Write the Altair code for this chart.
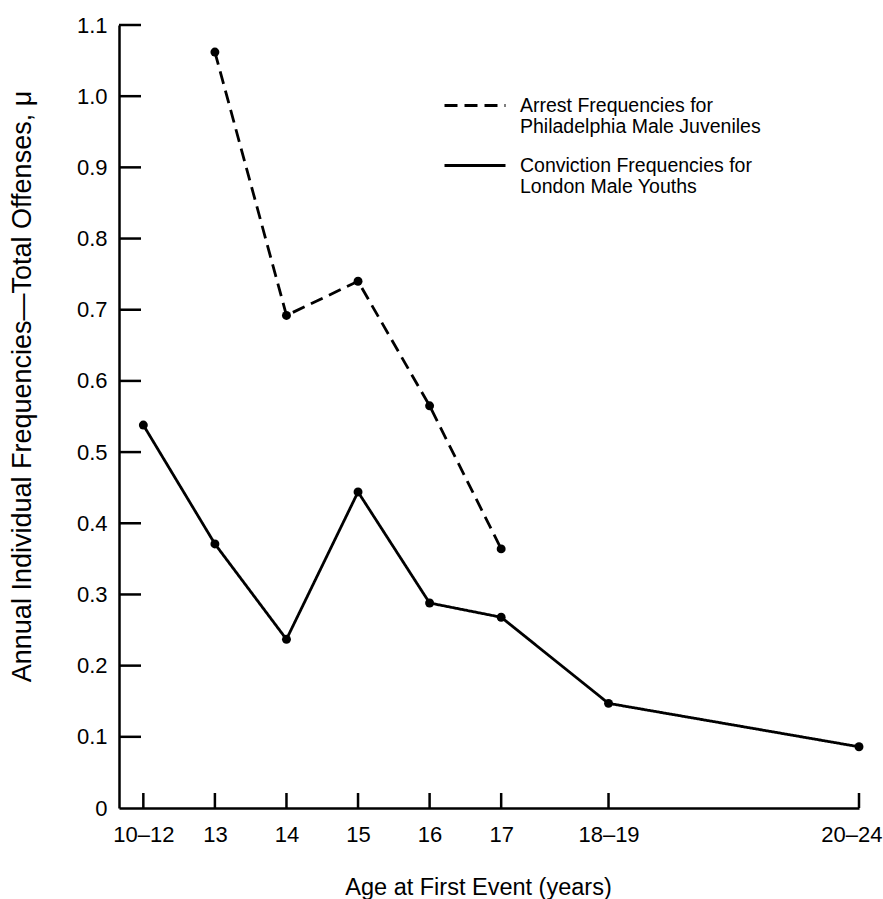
import altair as alt
import pandas as pd

# ---- data ----
age_pos = [12, 13, 14, 15, 16, 17, 18.5, 22]
age_labels = ["10–12", "13", "14", "15", "16", "17", "18–19", "20–24"]
london = [0.538, 0.371, 0.237, 0.444, 0.288, 0.268, 0.147, 0.086]
phila_pos = [13, 14, 15, 16, 17]
phila = [1.062, 0.692, 0.740, 0.565, 0.364]
y_ticks = [0.1, 0.2, 0.3, 0.4, 0.5, 0.6, 0.7, 0.8, 0.9, 1.0, 1.1]
series_names = [
    "Arrest Frequencies for|Philadelphia Male Juveniles",
    "Conviction Frequencies for|London Male Youths",
]

rows = [{"series": series_names[0], "x": a, "y": v} for a, v in zip(phila_pos, phila)]
rows += [{"series": series_names[1], "x": a, "y": v} for a, v in zip(age_pos, london)]
df = pd.DataFrame(rows)

FONT = "Liberation Sans"
W, H = 740, 783
xdom = [11.66, 22]
ydom = [0, 1.1]

label_expr = " : ".join(
    f"datum.value == {p} ? '{l}'" for p, l in zip(age_pos, age_labels)
) + " : ''"

xscale = alt.Scale(domain=xdom, nice=False, zero=False)
yscale = alt.Scale(domain=ydom, nice=False, zero=True)

x_axis = alt.Axis(
    values=age_pos, labelExpr=label_expr, ticks=False, grid=False,
    domainColor="black", domainWidth=2.5, labelFont=FONT, labelFontSize=22,
    labelColor="black", labelPadding=16, labelFlush=True, labelFlushOffset=23,
    title="Age at First Event (years)", titleFont=FONT, titleFontSize=23.5,
    titleFontWeight="normal", titleColor="black", titleX=359, titleY=86,
    titleBaseline="alphabetic", titleAlign="center",
)
y_axis = alt.Axis(
    values=[0] + y_ticks,
    labelExpr="datum.value == 0 ? '0' : format(datum.value, '.1f')",
    ticks=False, grid=False, domainColor="black", domainWidth=2.5,
    labelFont=FONT, labelFontSize=22, labelColor="black", labelPadding=12,
    labelFlush=False,
    title="Annual Individual Frequencies—Total Offenses, μ", titleFont=FONT,
    titleFontSize=27, titleFontWeight="normal", titleColor="black",
    titleX=-97, titleY=361, titleAngle=270, titleBaseline="middle",
    titleAlign="center",
)

base = alt.Chart(df)

lines = base.mark_line(color="black", strokeWidth=2.8).encode(
    x=alt.X("x:Q", scale=xscale, axis=x_axis),
    y=alt.Y("y:Q", scale=yscale, axis=y_axis),
    strokeDash=alt.StrokeDash(
        "series:N",
        scale=alt.Scale(domain=series_names, range=[[13, 7], [1, 0]]),
        legend=alt.Legend(
            title=None, orient="none", legendX=324, legendY=58,
            symbolType="stroke", symbolSize=3721, symbolStrokeWidth=3,
            symbolStrokeColor="black", labelFont=FONT, labelFontSize=19.5,
            labelColor="black", labelLimit=400, labelOffset=13,
            labelExpr="split(datum.label, '|')", rowPadding=6,
            clipHeight=45, labelBaseline="middle",
        ),
    ),
)

points = base.mark_circle(color="black", size=80, opacity=1).encode(
    x=alt.X("x:Q", scale=xscale),
    y=alt.Y("y:Q", scale=yscale),
)

ytick_df = pd.DataFrame({"v": y_ticks})
yticks = alt.Chart(ytick_df).mark_rule(color="black", strokeWidth=2.5).encode(
    y=alt.Y("v:Q", scale=yscale),
    x=alt.value(0), x2=alt.value(22),
)
xtick_df = pd.DataFrame({"p": age_pos})
xticks = alt.Chart(xtick_df).mark_rule(color="black", strokeWidth=2.5).encode(
    x=alt.X("p:Q", scale=xscale),
    y=alt.value(H), y2=alt.value(H - 15),
)

chart = alt.layer(lines, points, yticks, xticks).properties(
    width=W, height=H,
    autosize=alt.AutoSizeParams(type="none"),
    padding={"left": 119, "top": 25, "right": 24, "bottom": 91},
    background="white",
).configure_view(stroke=None)

chart.save("out.html", embed_options={"renderer": "svg", "actions": False})
